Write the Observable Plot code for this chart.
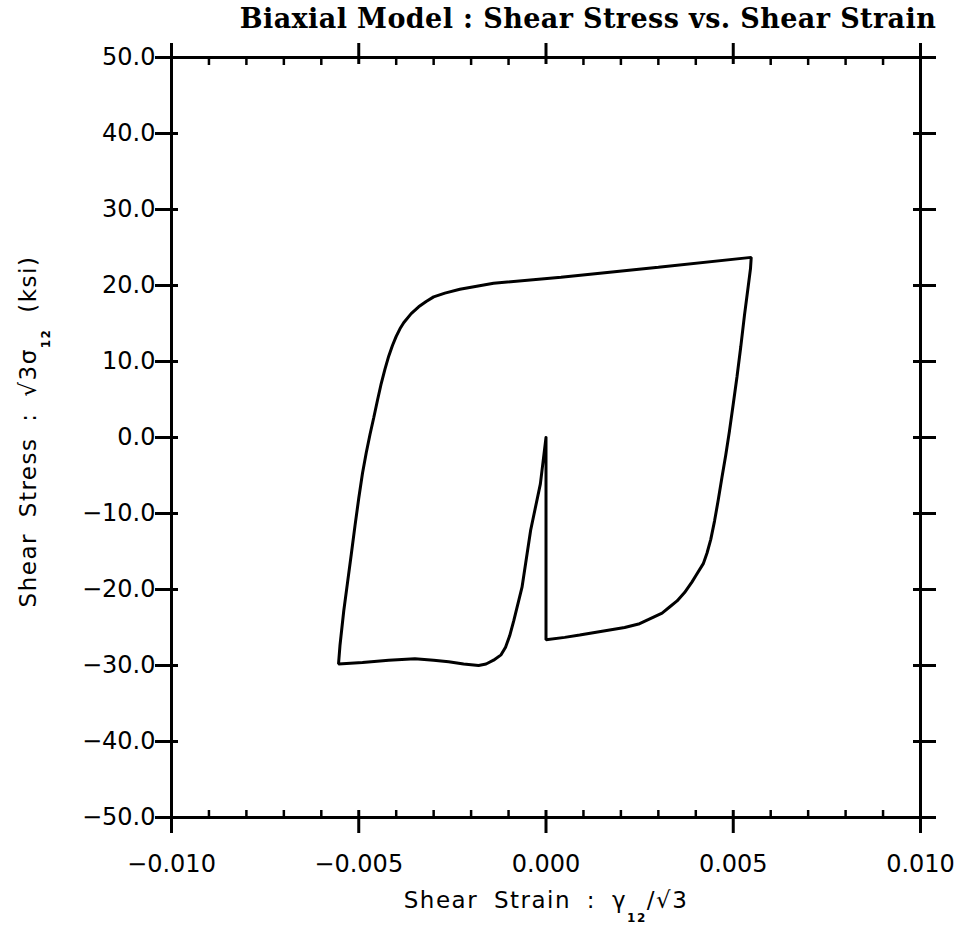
<!DOCTYPE html>
<html><head><meta charset="utf-8">
<script src="https://cdn.jsdelivr.net/npm/d3@7"></script>
<script src="https://cdn.jsdelivr.net/npm/@observablehq/plot@0.6"></script>
<style>
body{margin:0;background:#fff;}
#wrap{position:relative;width:964px;height:939px;}
#title{position:absolute;left:588px;top:1px;transform:translateX(-50%);white-space:nowrap;
  font-family:"DejaVu Serif",serif;font-weight:bold;font-size:27px;line-height:36px;color:#000;letter-spacing:0.4px;}
#chart{position:absolute;left:0;top:40px;}
</style></head><body>
<div id="wrap">
<div id="title">Biaxial Model : Shear Stress vs. Shear Strain</div>
<div id="chart"></div>
</div>
<script>
// Shear strain (gamma12/sqrt3) and shear stress (ksi), traced along the loop
const strain = [
  0.0000, 0.0000, 0.0005, 0.0009, 0.0015, 0.0021, 0.0025, 0.0028, 0.0031, 0.0033, 0.0035, 0.0037,
  0.0039, 0.0040, 0.0042, 0.0043, 0.0044, 0.0045, 0.0046, 0.0047, 0.0048, 0.0049, 0.0050,
  0.0051, 0.0052, 0.0053, 0.0054, 0.00546, 0.00548,
  0.0030, 0.0004, -0.0014, -0.0023, -0.0027, -0.0030, -0.0032, -0.0034, -0.0036, -0.0038, -0.0039,
  -0.0040, -0.0041, -0.0042, -0.0043, -0.0044, -0.0045, -0.0046, -0.0047, -0.0048, -0.0049, -0.0050,
  -0.0051, -0.0052, -0.0053, -0.0054, -0.0055, -0.00554,
  -0.0049, -0.0042, -0.0035, -0.0030, -0.0026, -0.0022, -0.0018, -0.0016, -0.0014, -0.0012, -0.00108,
  -0.00097, -0.00086, -0.00064, -0.00041, -0.00015, -0.00002, 0.0000
];
const stress = [
  0.0, -26.6, -26.3, -26.0, -25.5, -25.0, -24.5, -23.8, -23.1, -22.3, -21.5, -20.4,
  -19.0, -18.2, -16.6, -15.2, -13.4, -11.0, -8.2, -5.2, -2.3, 0.9, 4.4,
  8.0, 11.9, 16.1, 19.9, 22.2, 23.7,
  22.4, 21.1, 20.3, 19.5, 19.0, 18.5, 17.9, 17.2, 16.3, 15.1, 14.3,
  13.3, 12.1, 10.7, 9.0, 7.1, 4.9, 2.6, 0.4, -2.0, -4.7, -8.0,
  -11.6, -15.4, -19.1, -22.8, -27.3, -29.8,
  -29.6, -29.3, -29.1, -29.3, -29.5, -29.8, -30.0, -29.8, -29.3, -28.6, -27.6,
  -26.1, -24.1, -19.7, -12.2, -6.1, -0.8, 0.0
];
const xMajor = [-0.010, -0.005, 0.000, 0.005, 0.010];
const xMinor = [-0.009, -0.008, -0.007, -0.006, -0.004, -0.003, -0.002, -0.001,
                 0.001, 0.002, 0.003, 0.004, 0.006, 0.007, 0.008, 0.009];
const yMajor = [-50, -40, -30, -20, -10, 0, 10, 20, 30, 40, 50];
const xLabel = ["Shear Strain : γ", "12", "/√3"];
const yLabel = ["Shear Stress : √3σ", "12", " (ksi)"];

const data = strain.map((x, i) => ({x, y: stress[i]}));
const fmtX = d3.format(".3f");
const fmtY = d3.format(".1f");

const plot = Plot.plot({
  width: 964, height: 899,
  marginLeft: 171, marginRight: 44, marginTop: 17, marginBottom: 122,
  x: {domain: [-0.010, 0.010]},
  y: {domain: [-50, 50]},
  style: {fontFamily: "DejaVu Sans, sans-serif", fontSize: "24px", color: "#000", background: "#fff"},
  marks: [
    Plot.frame({strokeWidth: 3}),
    // crossing major ticks
    Plot.axisX(xMajor, {anchor: "bottom", tickSize: 23, dy: -7, fill: "none", strokeWidth: 3, label: null}),
    Plot.axisX(xMajor, {anchor: "top", tickSize: 21, dy: 6, fill: "none", strokeWidth: 3, label: null}),
    Plot.axisX(xMinor, {anchor: "bottom", tickSize: 7, dy: -7, fill: "none", strokeWidth: 2.5, label: null}),
    Plot.axisX(xMinor, {anchor: "top", tickSize: 7, dy: 7, fill: "none", strokeWidth: 2.5, label: null}),
    Plot.axisY(yMajor, {anchor: "left", tickSize: 23, dx: 7, fill: "none", strokeWidth: 3, label: null}),
    Plot.axisY(yMajor, {anchor: "right", tickSize: 23, dx: -8, fill: "none", strokeWidth: 3, label: null}),
    // tick labels
    Plot.axisX(xMajor, {anchor: "bottom", tickSize: 0, tickPadding: 37, tickFormat: fmtX, label: null}),
    Plot.axisY(yMajor, {anchor: "left", tickSize: 0, tickPadding: 16, tickFormat: fmtY, label: null}),
    // axis titles
    Plot.text([xLabel.join("")], {frameAnchor: "bottom", dy: 90, className: "xlab", fontSize: 23, textAnchor: "middle"}),
    Plot.text([yLabel.join("")], {frameAnchor: "left", dx: -143, dy: -6, rotate: -90, className: "ylab", fontSize: 23, textAnchor: "middle"}),
    // the stress-strain loop
    Plot.line(data, {x: "x", y: "y", stroke: "#000", strokeWidth: 3, strokeLinejoin: "miter"})
  ]
});
document.getElementById("chart").appendChild(plot);

// rebuild axis titles with true subscripts
function subscriptify(cls, parts) {
  const t = d3.select(plot).select("g." + cls + " text");
  t.text(null).style("letter-spacing", "1.5px").style("word-spacing", "7px");
  t.append("tspan").text(parts[0]);
  t.append("tspan").attr("dy", 14).style("font-size", "12px").style("font-weight", "bold").text(parts[1]);
  t.append("tspan").attr("dy", -14).text(parts[2]);
}
subscriptify("xlab", xLabel);
subscriptify("ylab", yLabel);
</script>
</body></html>
